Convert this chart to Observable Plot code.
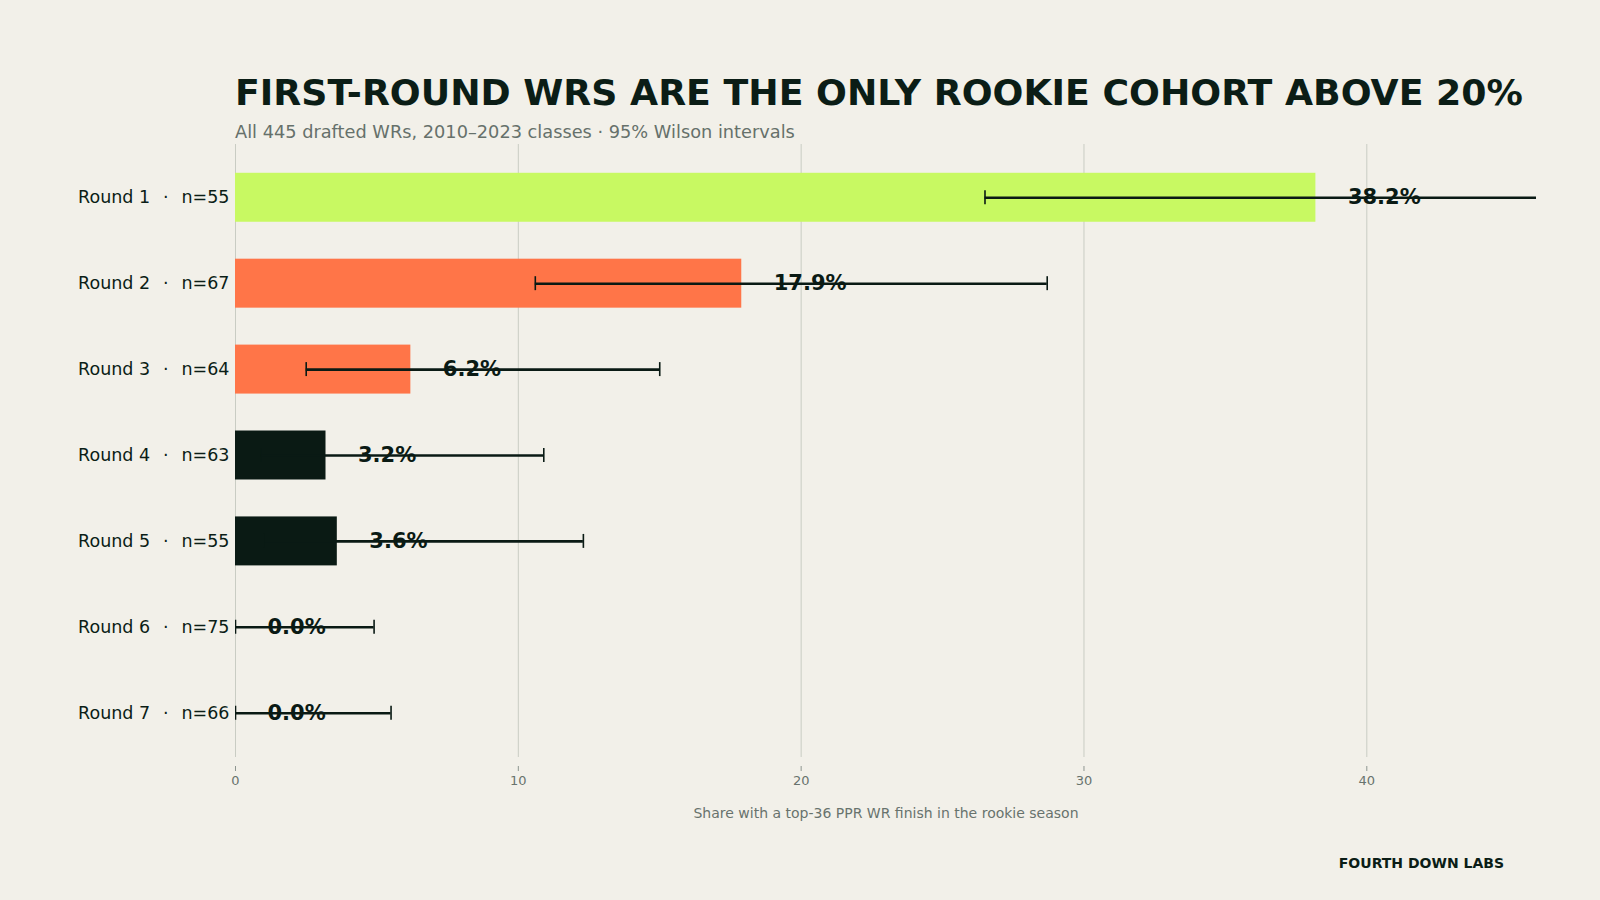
<!DOCTYPE html>
<html>
<head>
<meta charset="utf-8">
<script src="https://cdn.jsdelivr.net/npm/d3@7"></script>
<script src="https://cdn.jsdelivr.net/npm/@observablehq/plot@0.6"></script>
<style>
  html, body { margin: 0; padding: 0; background: #F2F0E9; }
  #wrap { position: relative; width: 1600px; height: 900px; background: #F2F0E9; font-family: "DejaVu Sans", sans-serif; overflow: hidden; }
  #title { position: absolute; left: 235px; top: 75px; margin: 0; font-size: 36.3px; line-height: 36px; font-weight: bold; color: #0B1D16; white-space: nowrap; }
  #subtitle { position: absolute; left: 235px; top: 123px; margin: 0; font-size: 17.75px; line-height: 18px; color: #66716B; white-space: nowrap; }
  #chart { position: absolute; left: 0; top: 134px; }
  #footer { position: absolute; right: 96px; top: 856px; font-size: 14px; line-height: 14px; font-weight: bold; color: #0B1D16; white-space: nowrap; }
</style>
</head>
<body>
<div id="wrap">
  <div id="title">FIRST-ROUND WRS ARE THE ONLY ROOKIE COHORT ABOVE 20%</div>
  <div id="subtitle">All 445 drafted WRs, 2010–2023 classes · 95% Wilson intervals</div>
  <div id="chart"></div>
  <div id="footer">FOURTH DOWN LABS</div>
</div>
<script>
// Data
const rounds = ["Round 1", "Round 2", "Round 3", "Round 4", "Round 5", "Round 6", "Round 7"];
const counts = [55, 67, 64, 63, 55, 75, 66];
const share = [38.2, 17.9, 6.2, 3.2, 3.6, 0.0, 0.0];
const lower = [26.5, 10.6, 2.5, 0.9, 1.0, 0.0, 0.0];
const upper = [51.4, 28.7, 15.0, 10.9, 12.3, 4.9, 5.5];
const xTicks = [0, 10, 20, 30, 40];
const xLabel = "Share with a top-36 PPR WR finish in the rookie season";

const SEP = "\u00A0\u00A0\u200A·\u200A\u00A0\u00A0";
const rows = rounds.map((r, i) => ({
  label: r + SEP + "n=" + counts[i],
  pct: share[i],
  lo: lower[i],
  hi: upper[i]
}));

const dark = "#0A1A14";
const coral = "#FF7548";
const lime = "#C8F962";
const ink = "#0A1A14";

const chart = Plot.plot({
  width: 1600,
  height: 766,
  marginTop: 10,
  marginBottom: 134,
  marginLeft: 235,
  marginRight: 64,
  style: { background: "transparent", fontFamily: "DejaVu Sans, sans-serif", overflow: "visible" },
  x: { domain: [0, 46] },
  y: { domain: rows.map(d => d.label), paddingInner: 0.43, paddingOuter: 0.335, round: false },
  color: { type: "threshold", domain: [5, 20], range: [dark, coral, lime] },
  marks: [
    Plot.gridX(xTicks, { stroke: "#C9CCC3", strokeOpacity: 1, strokeWidth: 1, insetBottom: 9 }),
    Plot.axisX(xTicks, { tickSize: 5, tickPadding: 4, fontSize: 13, color: "#68736D", stroke: "#8E9690", label: null }),
    Plot.axisY({ tickSize: 0, tickPadding: 6, fontSize: 17.5, color: "#0B1D16", label: null }),
    Plot.barX(rows, { x: "pct", y: "label", fill: d => d.pct }),
    Plot.ruleY(rows, { y: "label", x1: "lo", x2: "hi", stroke: ink, strokeWidth: 2.6, clip: true }),
    Plot.tickX(rows, { x: "lo", y: "label", stroke: ink, strokeWidth: 1.6, insetTop: 17.5, insetBottom: 17.5, clip: true }),
    Plot.tickX(rows, { x: "hi", y: "label", stroke: ink, strokeWidth: 1.6, insetTop: 17.5, insetBottom: 17.5, clip: true }),
    Plot.text(rows, { x: "pct", y: "label", text: d => d.pct.toFixed(1) + "%", dx: 32, textAnchor: "start", fontWeight: "bold", fontSize: 21, fill: ink }),
    Plot.text([xLabel], { frameAnchor: "bottom", dy: 51, fontSize: 14, fill: "#68736D" })
  ]
});
document.getElementById("chart").appendChild(chart);
</script>
</body>
</html>
